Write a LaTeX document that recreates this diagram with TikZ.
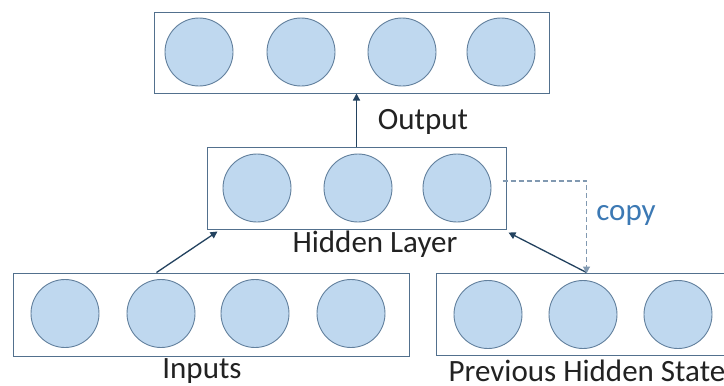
\documentclass[tikz,border=0pt]{standalone}
\usepackage{fontspec}
\setmainfont{Carlito}
\usetikzlibrary{arrows.meta}
\definecolor{unitfill}{HTML}{BFD8EF}
\definecolor{unitline}{HTML}{62809D}
\definecolor{layerline}{HTML}{52708D}
\definecolor{linkcol}{HTML}{23425F}
\definecolor{copycol}{HTML}{3C79B4}
\definecolor{txtcol}{HTML}{222222}
\tikzset{
  layer/.style={draw=layerline, line width=1pt, fill=white, rectangle, inner sep=0pt},
  unit/.style={circle, draw=unitline, line width=0.9pt, fill=unitfill, minimum size=68pt, inner sep=0pt},
  lbl/.style={font=\fontsize{31}{36}\selectfont, text=txtcol, inner sep=0pt},
  link/.style={draw=linkcol, line width=1.3pt, -{Triangle[width=7pt,length=7pt]}},
  copylink/.style={draw=unitline!80, line width=1.1pt, dash pattern=on 5pt off 3pt,
    -{Triangle[width=7pt,length=7pt]}}
}
\begin{document}
\begin{tikzpicture}[x=1pt,y=-1pt]
  \useasboundingbox (0,0) rectangle (724,386);
  \clip (0,0) rectangle (724,386);
  \fill[white] (0,0) rectangle (724,386);

  % layer boxes
  \node[layer, minimum width=395pt, minimum height=81pt] (top) at (351.5,52.5) {};
  \node[layer, minimum width=299pt, minimum height=82pt] (hid) at (356.5,188) {};
  \node[layer, minimum width=396pt, minimum height=83pt] (inp) at (211,314.5) {};
  \node[layer, minimum width=320pt, minimum height=82pt] (prev) at (596,314) {};

  % output units
  \node[unit] (o1) at (199,52) {};
  \node[unit] (o2) at (301,52) {};
  \node[unit] (o3) at (402,52) {};
  \node[unit] (o4) at (501,52) {};
  % hidden units
  \node[unit] (h1) at (257,188) {};
  \node[unit] (h2) at (358,188) {};
  \node[unit] (h3) at (457,188) {};
  % input units
  \node[unit] (i1) at (65,313.5) {};
  \node[unit] (i2) at (161,313.5) {};
  \node[unit] (i3) at (255,313.5) {};
  \node[unit] (i4) at (351,313.5) {};
  % previous hidden state units
  \node[unit] (p1) at (488,314.5) {};
  \node[unit] (p2) at (583,314.5) {};
  \node[unit] (p3) at (678,314.5) {};

  % labels
  \node[lbl] (lout) at (423,122) {Output};
  \node[lbl] (lhid) at (375,244) {Hidden Layer};
  \node[lbl] (linp) at (202,371) {Inputs};
  \node[lbl] (lprev) at (587,371) {Previous Hidden State};
  \node[lbl, text=copycol] (lcopy) at (626,215) {copy};

  % connectors
  \draw[link] (hid.north) -- (hid.north |- top.south);
  \draw[link] ([xshift=144pt]inp.north west) -- ([xshift=11pt,yshift=-2pt]hid.south west);
  \draw[link] ([xshift=151pt]prev.north west) -- ([xshift=2pt,yshift=-3pt]hid.south east);
  \coordinate (cbend) at ([xshift=151pt]prev.north west |- h3.east);
  \draw[copylink] ([xshift=-4pt,yshift=7pt]hid.east) -- ([yshift=7pt]cbend) -- ([xshift=151pt,yshift=-1pt]prev.north west);
\end{tikzpicture}
\end{document}
